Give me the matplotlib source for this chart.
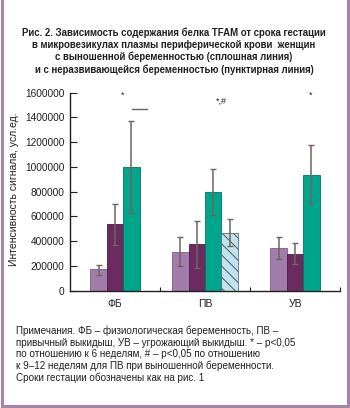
import matplotlib
matplotlib.use('Agg')
from matplotlib import pyplot as plt
from matplotlib import font_manager
from matplotlib.lines import Line2D
import numpy as np

groups = ['ФБ', 'ПВ', 'УВ']
# bars per group: values and lower / upper error lengths
fb_values = [175000, 537000, 1000000]
fb_err_low = [50000, 168000, 375000]
fb_err_high = [30000, 163000, 374000]
pv_values = [315000, 375000, 795000, 469000]
pv_err_low = [115000, 194000, 183000, 105000]
pv_err_high = [116000, 191000, 188000, 108000]
uv_values = [343000, 297000, 937000]
uv_err_low = [87000, 81000, 237000]
uv_err_high = [93000, 86000, 240000]

marks = [(0.086, 1576000, '*'), (1.186, 1527000, '*,#'), (2.178, 1576000, '*')]
dash_x = [0.185, 0.352]
dash_y = 1468000

title = ('Рис. 2. Зависимость содержания белка TFAM от срока гестации\n'
         'в микровезикулах плазмы периферической крови  женщин\n'
         'с выношенной беременностью (сплошная линия)\n'
         'и с неразвивающейся беременностью (пунктирная линия)')
notes = ('Примечания. ФБ – физиологическая беременность, ПВ –\n'
         'привычный выкидыш, УВ – угрожающий выкидыш. * – p<0,05\n'
         'по отношению к 6 неделям, # – p<0,05 по отношению\n'
         'к 9–12 неделям для ПВ при выношенной беременности.\n'
         'Сроки гестации обозначены как на рис. 1')
ylabel = 'Интенсивность сигнала, усл.ед.'

installed = {f.name for f in font_manager.fontManager.ttflist}
narrow = next((f for f in ['Liberation Sans Narrow', 'DejaVu Sans Condensed', 'Liberation Sans']
               if f in installed), 'DejaVu Sans')
plt.rcParams['font.family'] = ['Liberation Sans', 'DejaVu Sans']
plt.rcParams['hatch.color'] = '#3d4a50'
plt.rcParams['hatch.linewidth'] = 0.7

colors = ['#a27cab', '#6b2b61', '#00a68c', '#bfe4f0']
edges = ['#7d5c86', '#4c1c45', '#00745f', '#4a5a60']
ink = '#231f20'
err_color = '#6f655b'

fig = plt.figure(figsize=(3.5, 4.08), dpi=100)
ax = fig.add_axes([70 / 350, 1 - 290.7 / 408, 270 / 350, 198 / 408])

w = 0.183
series = [(0, fb_values, fb_err_low, fb_err_high),
          (1, pv_values, pv_err_low, pv_err_high),
          (2, uv_values, uv_err_low, uv_err_high)]
for gx, vals, lo, hi in series:
    n = len(vals)
    offs = (np.arange(n) - (n - 1) / 2) * w
    for i, (v, l, h) in enumerate(zip(vals, lo, hi)):
        x = gx + offs[i]
        if i == 3:
            ax.bar(x, v, w, color=colors[3], edgecolor=edges[3], linewidth=0.5,
                   hatch='\\\\\\', zorder=2)
        else:
            ax.bar(x, v, w, color=colors[i], edgecolor=edges[i], linewidth=0.6, zorder=2)
        ax.errorbar(x, v, yerr=[[l], [h]], fmt='none', ecolor=err_color,
                    elinewidth=1.1, capsize=2, capthick=1.0, zorder=3)

for x, y, s in marks:
    ax.text(x, y, s, ha='center', va='center', fontsize=6.5, color=ink)
ax.plot(dash_x, [dash_y, dash_y], color=err_color, lw=1.0)

ax.set_xlim(-0.5, 2.5)
ax.set_ylim(0, 1600000)
ax.set_yticks(np.arange(0, 1600001, 200000))
ax.set_yticklabels([str(int(t)) for t in np.arange(0, 1600001, 200000)])
ax.set_xticks(range(3))
ax.set_xticklabels(groups)
ax.set_xticks([0.5, 1.5, 2.5], minor=True)
ax.tick_params(axis='x', which='major', length=0, pad=6, labelsize=7.5, colors=ink)
ax.tick_params(axis='x', which='minor', direction='in', length=3, width=0.8, color=ink)
ax.tick_params(axis='y', direction='in', length=5, width=0.8, pad=4, labelsize=7.3, colors=ink)
for s in ['top', 'right']:
    ax.spines[s].set_visible(False)
for s in ['left', 'bottom']:
    ax.spines[s].set_color(ink)
    ax.spines[s].set_linewidth(1.0)

fig.text(14 / 350, 1 - 189 / 408, ylabel, rotation=90, ha='center', va='center',
         fontsize=7.5, color=ink)
fig.text(174 / 350, 1 - 27 / 408, title, ha='center', va='top', fontsize=6.9,
         fontweight='bold', family=[narrow, 'DejaVu Sans'], color=ink, linespacing=1.25)
fig.text(16 / 350, 1 - 326 / 408, notes, ha='left', va='top', fontsize=7.1,
         color=ink, linespacing=1.18)

border = '#a884aa'
for xs, ys in [([1.5, 1.5], [0, 406]), ([348, 348], [0, 406]), ([1.5, 348], [406, 406])]:
    fig.add_artist(Line2D([x / 350 for x in xs], [1 - y / 408 for y in ys],
                          color=border, lw=2.2, transform=fig.transFigure))

fig.savefig('out.png', dpi=100)
